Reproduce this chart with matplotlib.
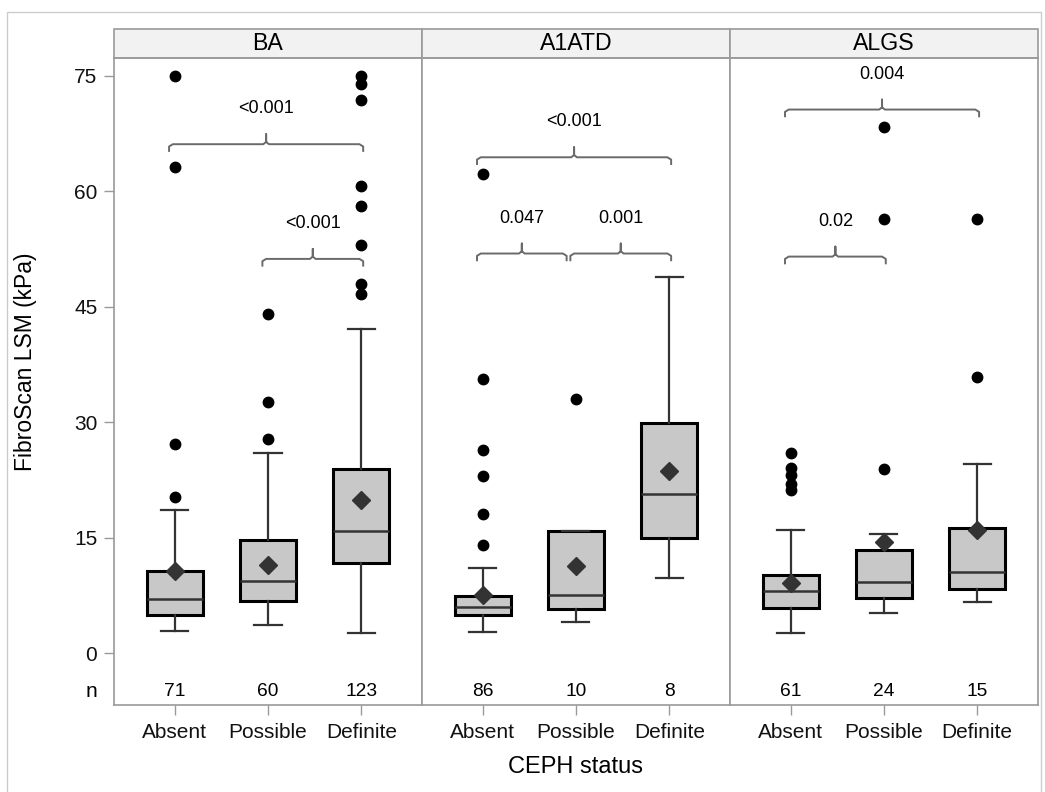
"""FibroScan LSM by CEPH status, faceted box plots."""
import matplotlib
matplotlib.use("Agg")
import matplotlib.pyplot as plt
from matplotlib.patches import Rectangle

plt.rcParams["font.family"] = ["Liberation Sans", "DejaVu Sans"]

statuses = ["Absent", "Possible", "Definite"]
groups = ["BA", "A1ATD", "ALGS"]

# BA
ba_q1 = [5.0, 6.7, 11.7]
ba_med = [7.0, 9.3, 15.9]
ba_q3 = [10.6, 14.7, 23.9]
ba_lo = [2.9, 3.6, 2.6]
ba_hi = [18.6, 26.0, 42.1]
ba_mean = [10.7, 11.5, 19.9]
ba_out = [[20.3, 27.2, 63.1, 75.0],
          [27.8, 32.6, 44.0],
          [46.7, 48.0, 53.0, 58.1, 60.7, 71.9, 73.9, 75.0]]
ba_n = [71, 60, 123]
ba_p = [(0, 2, 66.1, "<0.001"), (1, 2, 51.2, "<0.001")]

# A1ATD
a1_q1 = [4.9, 5.7, 14.9]
a1_med = [6.0, 7.6, 20.6]
a1_q3 = [7.4, 15.8, 29.9]
a1_lo = [2.7, 4.1, 9.8]
a1_hi = [11.1, 15.9, 48.9]
a1_mean = [7.6, 11.3, 23.7]
a1_out = [[14.1, 18.0, 23.0, 26.4, 35.6, 62.2], [33.0], []]
a1_n = [86, 10, 8]
a1_p = [(0, 2, 64.4, "<0.001"), (0, 1, 51.9, "0.047"), (1, 2, 51.9, "0.001")]

# ALGS
al_q1 = [5.8, 7.1, 8.3]
al_med = [8.1, 9.2, 10.5]
al_q3 = [10.1, 13.4, 16.3]
al_lo = [2.6, 5.2, 6.6]
al_hi = [16.0, 15.5, 24.6]
al_mean = [9.1, 14.4, 16.0]
al_out = [[21.2, 22.0, 23.1, 24.1, 26.0], [23.9, 56.4, 68.3], [35.8, 56.4]]
al_n = [61, 24, 15]
al_p = [(0, 2, 70.6, "0.004"), (0, 1, 51.5, "0.02")]

panels = [
    (ba_q1, ba_med, ba_q3, ba_lo, ba_hi, ba_mean, ba_out, ba_n, ba_p),
    (a1_q1, a1_med, a1_q3, a1_lo, a1_hi, a1_mean, a1_out, a1_n, a1_p),
    (al_q1, al_med, al_q3, al_lo, al_hi, al_mean, al_out, al_n, al_p),
]

FRAME = "#9a9a9a"
DARK = "#333333"

fig = plt.figure(figsize=(10.45, 7.92), dpi=100)
fig.patches.append(Rectangle((7 / 1045, -0.1), 1034 / 1045, 1.1 - 12 / 792,
                             transform=fig.transFigure, fill=False,
                             ec="#cccccc", lw=1.0))

left, bottom, width, height = 0.1091, 0.1098, 0.2947, 0.817
strip_h = 0.0366 / height

for k, (name, data) in enumerate(zip(groups, panels)):
    q1, med, q3, lo, hi, mean, out, n, pvals = data
    ax = fig.add_axes([left + k * width, bottom, width, height])
    stats = []
    for i in range(3):
        stats.append(dict(q1=q1[i], med=med[i], q3=q3[i], whislo=lo[i],
                          whishi=hi[i], mean=mean[i], fliers=out[i]))
    ax.bxp(stats, positions=[0, 1, 2], widths=0.6, showmeans=True,
           patch_artist=True, capwidths=0.29,
           boxprops=dict(facecolor="#c8c8c8", edgecolor="black", lw=2.2),
           medianprops=dict(color=DARK, lw=1.8),
           whiskerprops=dict(color=DARK, lw=1.6),
           capprops=dict(color=DARK, lw=1.6),
           meanprops=dict(marker="D", markerfacecolor=DARK,
                          markeredgecolor=DARK, markersize=9),
           flierprops=dict(marker="o", markerfacecolor="black",
                           markeredgecolor="black", markersize=7.5))
    ax.set_xlim(-0.65, 2.65)
    ax.set_ylim(-6.75, 77.3)
    ax.set_xticks([0, 1, 2])
    ax.set_xticklabels(statuses, fontsize=15)
    ax.set_yticks([0, 15, 30, 45, 60, 75])
    ax.tick_params(axis="both", color=FRAME, length=7, width=1, pad=6,
                   labelcolor="#111111")
    if k > 0:
        ax.tick_params(axis="y", left=False, labelleft=False)
    else:
        ax.tick_params(axis="y", labelsize=15, pad=5)
        ax.set_ylabel("FibroScan LSM (kPa)", fontsize=16.5)
        ax.yaxis.set_label_coords(-0.25, 0.53)
        ax.text(-0.055, 0.021, "n", transform=ax.transAxes, ha="right",
                va="center", fontsize=15)
    if k == 1:
        ax.set_xlabel("CEPH status", fontsize=17, labelpad=10)
    for s in ax.spines.values():
        s.set_color(FRAME)
        s.set_linewidth(1.2)

    # sample sizes
    for i in range(3):
        ax.text(i, 0.021, str(n[i]), transform=ax.get_xaxis_transform(),
                ha="center", va="center", fontsize=13.8)

    # significance brackets
    starts = [p[0] for p in pvals]
    for i, j, yb, label in pvals:
        x0 = i - 0.06
        x1 = j + 0.02
        if any(s == j and q[2] == yb for s, q in zip(starts, pvals)):
            x1 = j - 0.1
        xm = (x0 + x1) / 2
        ax.plot([x0, x0, x0 + 0.04, xm - 0.03, xm, xm, xm, xm + 0.03,
                 x1 - 0.04, x1, x1],
                [yb - 1.0, yb - 0.3, yb, yb, yb + 0.3, yb + 1.3, yb + 0.3,
                 yb, yb, yb - 0.3, yb - 1.0],
                color="#6a6a6a", lw=1.4, solid_capstyle="butt")
        ax.text(xm, yb + 4.6, label, ha="center", va="center", fontsize=13)

    # strip header
    ax.add_patch(Rectangle((0, 1), 1, strip_h, transform=ax.transAxes,
                           facecolor="#f2f2f2", edgecolor=FRAME, lw=1.2,
                           clip_on=False))
    ax.text(0.5, 1 + strip_h / 2, name, transform=ax.transAxes,
            ha="center", va="center", fontsize=16.7)

fig.savefig("out.png", dpi=100)
plt.close(fig)
